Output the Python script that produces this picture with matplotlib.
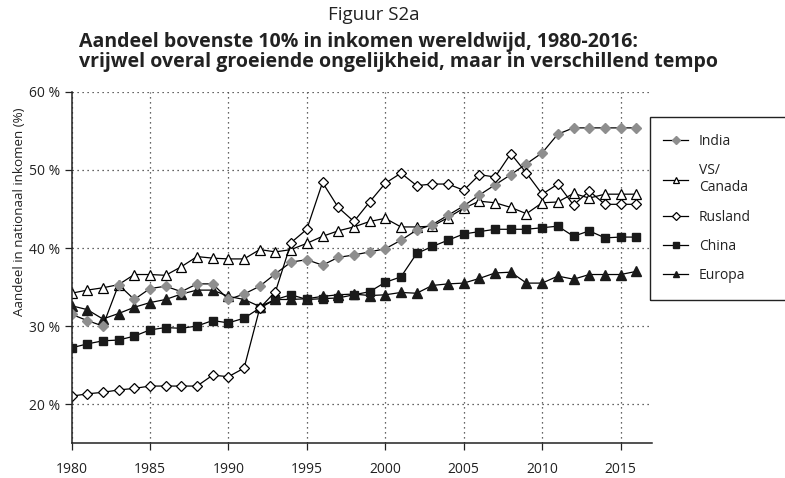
import matplotlib
matplotlib.use("Agg")
import matplotlib.pyplot as plt
from matplotlib.patches import Rectangle

years = list(range(1980, 2017))

india = [31.5, 30.7, 30.0, 35.3, 33.4, 34.8, 35.1, 34.4, 35.4, 35.4,
         33.4, 34.1, 35.1, 36.7, 38.2, 38.5, 37.8, 38.8, 39.1, 39.5,
         39.9, 41.0, 42.3, 43.0, 44.2, 45.4, 46.8, 48.1, 49.4, 50.8,
         52.2, 54.6, 55.4, 55.4, 55.4, 55.4, 55.4]
vs_canada = [34.2, 34.6, 34.9, 35.3, 36.6, 36.6, 36.5, 37.6, 38.9, 38.7,
             38.6, 38.6, 39.8, 39.5, 39.8, 40.6, 41.5, 42.2, 42.7, 43.4,
             43.8, 42.7, 42.7, 42.8, 43.9, 45.1, 46.0, 45.8, 45.2, 44.4,
             45.8, 45.9, 47.0, 46.4, 46.9, 46.9, 46.9]
rusland = [21.0, 21.3, 21.5, 21.8, 22.0, 22.3, 22.3, 22.3, 22.3, 23.7,
           23.5, 24.6, 32.3, 34.4, 40.7, 42.4, 48.4, 45.2, 43.4, 45.9,
           48.3, 49.6, 48.0, 48.2, 48.2, 47.4, 49.4, 49.1, 52.1, 49.6,
           46.9, 48.2, 45.5, 47.3, 45.6, 45.6, 45.6]
china = [27.2, 27.7, 28.1, 28.2, 28.7, 29.5, 29.8, 29.7, 30.0, 30.7,
         30.4, 31.0, 32.3, 33.4, 34.0, 33.4, 33.5, 33.6, 34.0, 34.4,
         35.6, 36.3, 39.3, 40.2, 41.0, 41.8, 42.1, 42.4, 42.4, 42.4,
         42.6, 42.8, 41.5, 42.2, 41.3, 41.4, 41.4]
europa = [32.6, 32.1, 30.9, 31.6, 32.4, 33.0, 33.4, 34.1, 34.6, 34.6,
          33.8, 33.4, 32.5, 33.4, 33.4, 33.5, 33.8, 34.0, 34.1, 33.9,
          34.0, 34.3, 34.2, 35.2, 35.4, 35.5, 36.1, 36.8, 36.9, 35.5,
          35.5, 36.4, 36.0, 36.6, 36.6, 36.6, 37.0]

xticks = [1980, 1985, 1990, 1995, 2000, 2005, 2010, 2015]
yticks = [20, 30, 40, 50, 60]

plt.rcParams["font.family"] = ["Open Sans", "DejaVu Sans"]

W, H = 785, 478
fig = plt.figure(figsize=(W / 100, H / 100), dpi=100)
ax = fig.add_axes([71.5 / W, 1 - 443 / H, (652 - 71.5) / W, (443 - 92) / H])

grey = "#8e8e8e"
ink = "#222222"
lw = 0.9
h_vs, = ax.plot(years, vs_canada, color="black", lw=lw, marker="^", ms=6.5,
                mfc="white", mec="black", mew=0.9, label="VS/\nCanada")
h_eu, = ax.plot(years, europa, color="black", lw=lw, marker="^", ms=6.5,
                mfc="#1a1a1a", mec="#1a1a1a", label="Europa")
h_cn, = ax.plot(years, china, color="black", lw=lw, marker="s", ms=5.8,
                mfc="#1a1a1a", mec="#1a1a1a", label="China")
h_in, = ax.plot(years, india, color="black", lw=lw, marker="D", ms=5.6,
                mfc=grey, mec=grey, label="India")
h_ru, = ax.plot(years, rusland, color="black", lw=lw, marker="D", ms=5.6,
                mfc="white", mec="black", mew=0.9, label="Rusland")

ax.set_xlim(1980, 2017)
ax.set_ylim(15, 60)
ax.set_xticks(xticks)
ax.set_yticks(yticks)
ax.set_yticklabels([f"{v} %" for v in yticks])
ax.tick_params(axis="x", length=5, width=0.9, pad=9, labelsize=10, colors=ink)
ax.tick_params(axis="y", length=5, width=0.9, pad=3, labelsize=10, colors=ink)
ax.grid(True, color="#333333", linestyle=(0, (1, 3)), lw=0.9)
ax.set_axisbelow(True)
for side in ["top", "right"]:
    ax.spines[side].set_visible(False)
for side in ["left", "bottom"]:
    ax.spines[side].set_linewidth(1.1)
    ax.spines[side].set_color(ink)

fig.text(20 / W, 1 - 212 / H, "Aandeel in nationaal inkomen (%)", rotation=90,
         ha="center", va="center", fontsize=9.6, color=ink)

fig.text(328 / W, 1 - 20 / H, "Figuur S2a", fontsize=13.5, va="baseline", color=ink)
fig.text(79 / W, 1 - 47 / H, "Aandeel bovenste 10% in inkomen wereldwijd, 1980-2016:",
         fontsize=14, fontweight="bold", va="baseline", color=ink)
fig.text(79 / W, 1 - 67.5 / H, "vrijwel overal groeiende ongelijkheid, maar in verschillend tempo",
         fontsize=14, fontweight="bold", va="baseline", color=ink)

fig.patches.append(Rectangle((650 / W, 1 - 300 / H), 200 / W, 183 / H,
                             transform=fig.transFigure, fill=False,
                             edgecolor=ink, lw=1.0))
leg = ax.legend(handles=[h_in, h_vs, h_ru, h_cn, h_eu], loc="upper left",
                bbox_to_anchor=(663 / W, 1 - 134 / H), bbox_transform=fig.transFigure,
                frameon=False, borderpad=0, borderaxespad=0, fontsize=10,
                handlelength=1.8, handletextpad=0.8, labelspacing=1.02,
                markerscale=0.75)
for t in leg.get_texts():
    t.set_color(ink)

fig.savefig("out.png", dpi=100)
